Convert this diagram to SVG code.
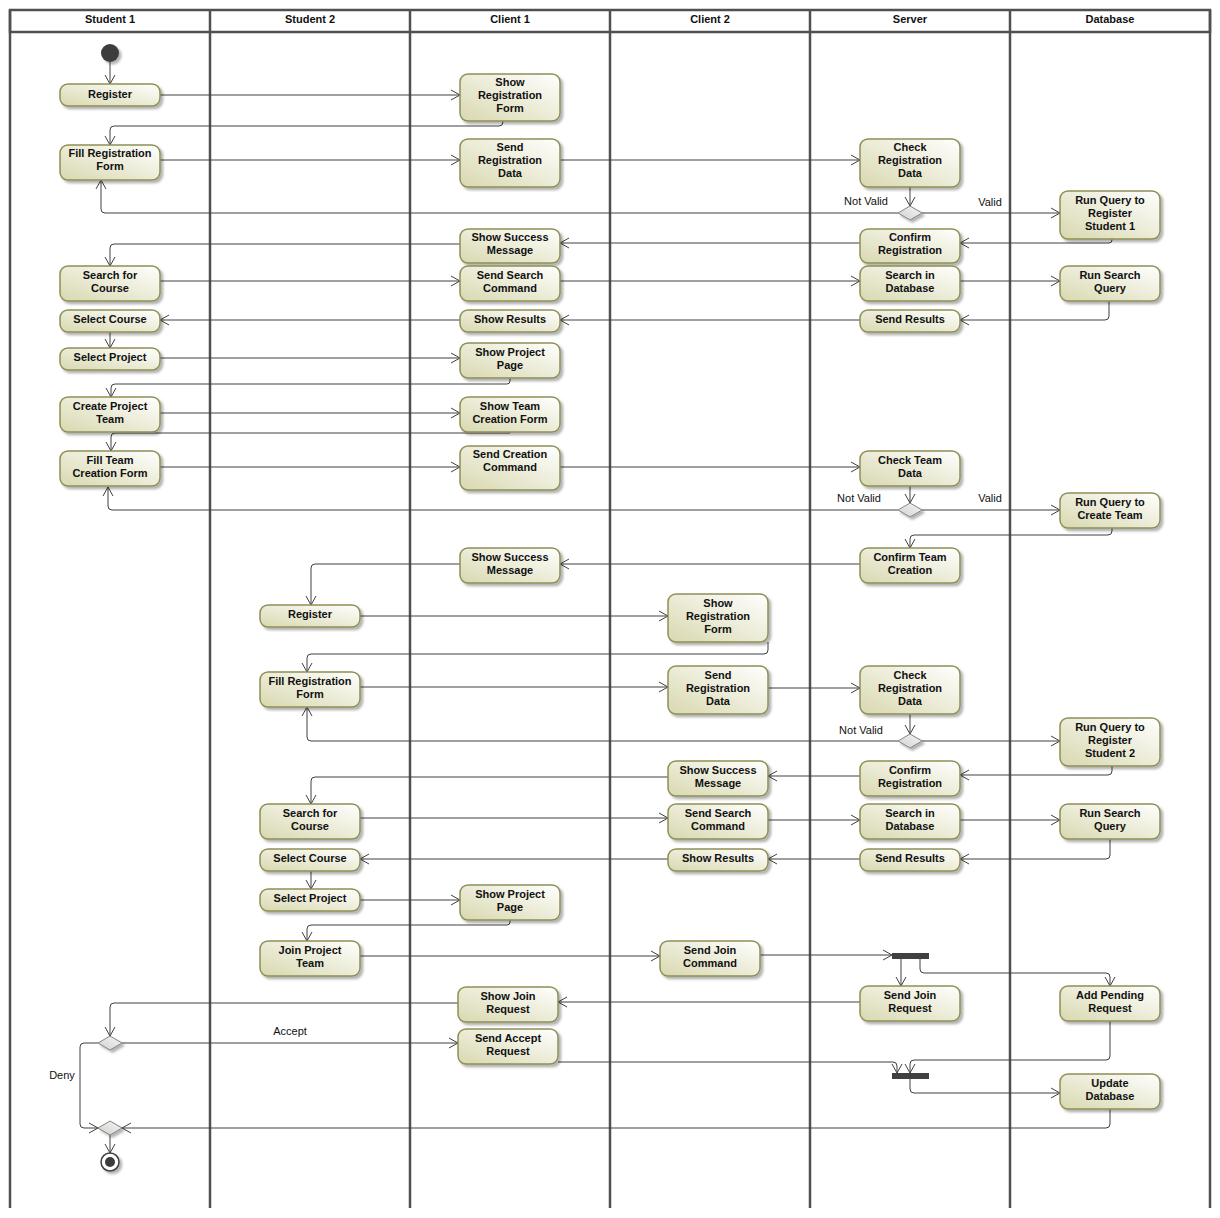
<svg xmlns="http://www.w3.org/2000/svg" width="1220" height="1218" viewBox="0 0 1220 1218">
<style>
.n rect{fill:url(#g);stroke:#8f8f55;stroke-width:1.5;filter:url(#sh)}
.t{font-family:"Liberation Sans",Arial,sans-serif;font-size:11px;font-weight:bold;text-anchor:middle;fill:#111}
.l{font-family:"Liberation Sans",Arial,sans-serif;font-size:11px;text-anchor:middle;fill:#111}
.h{font-family:"Liberation Sans",Arial,sans-serif;font-size:11px;font-weight:bold;text-anchor:middle;fill:#111}
.c path{fill:none;stroke:#404040;stroke-width:1;marker-end:url(#a)}
.d{fill:url(#dg);stroke:#85857a;stroke-width:1;filter:url(#sh)}
.bar{fill:#404040}
.lane{stroke:#505050;stroke-width:2.5;fill:none}
</style>
<defs>
<linearGradient id="g" x1="0" y1="1" x2="1" y2="0">
<stop offset="0" stop-color="#d8d8b0"/>
<stop offset="1" stop-color="#ffffff"/>
</linearGradient>
<linearGradient id="dg" x1="0" y1="1" x2="1" y2="0">
<stop offset="0" stop-color="#d0d0d0"/>
<stop offset="1" stop-color="#f6f6f6"/>
</linearGradient>
<filter id="sh" x="-20%" y="-20%" width="150%" height="160%">
<feDropShadow dx="2.5" dy="2.5" stdDeviation="1" flood-color="#000" flood-opacity="0.3"/>
</filter>
<marker id="a" markerWidth="10" markerHeight="12" refX="9" refY="6" orient="auto" markerUnits="userSpaceOnUse">
<path d="M0,1 L9,6 L0,11" fill="none" stroke="#404040" stroke-width="1"/>
</marker>
</defs>
<rect width="1220" height="1218" fill="#fff"/>
<g id="swimlanes">
<rect x="10" y="10" width="1200" height="22" fill="#fff" class="lane"/>
<path class="lane" d="M10,10V1208M210,10V1208M410,10V1208M610,10V1208M810,10V1208M1010,10V1208M1210,10V1208"/>
<text class="h" x="110" y="23">Student 1</text>
<text class="h" x="310" y="23">Student 2</text>
<text class="h" x="510" y="23">Client 1</text>
<text class="h" x="710" y="23">Client 2</text>
<text class="h" x="910" y="23">Server</text>
<text class="h" x="1110" y="23">Database</text>
</g>
<g id="connectors" class="c">
<path d="M110,62V84"/>
<path d="M160,95H460"/>
<path d="M503,121V122Q503,126 499,126H114Q110,126 110,130V145"/>
<path d="M160,160H460"/>
<path d="M560,160H860"/>
<path d="M910,187V206"/>
<path d="M922,213H1060"/>
<path d="M898,213H105Q101,213 101,209V180"/>
<path d="M1112,239V240Q1112,243 1109,243H960"/>
<path d="M860,243H560"/>
<path d="M460,244H114Q110,244 110,248V266"/>
<path d="M160,281H460"/>
<path d="M560,281H860"/>
<path d="M960,281H1060"/>
<path d="M1109,301V316Q1109,320 1105,320H960"/>
<path d="M860,320H560"/>
<path d="M460,320H160"/>
<path d="M110,332V348"/>
<path d="M160,358H460"/>
<path d="M510,378V381Q510,384 507,384H115Q111,384 111,388V397"/>
<path d="M160,413H460"/>
<path d="M510,432V433H115Q111,433 111,437V451"/>
<path d="M160,467H460"/>
<path d="M560,467H860"/>
<path d="M910,486V503"/>
<path d="M922,510H1060"/>
<path d="M898,510H112Q108,510 108,506V487"/>
<path d="M1112,528V531Q1112,535 1108,535H914Q910,535 910,539V548"/>
<path d="M860,564H560"/>
<path d="M460,564H315Q311,564 311,568V605"/>
<path d="M360,616H668"/>
<path d="M768,642V650Q768,654 764,654H311Q307,654 307,658V672"/>
<path d="M360,687H668"/>
<path d="M768,688H860"/>
<path d="M910,714V734"/>
<path d="M922,741H1060"/>
<path d="M898,741H311Q307,741 307,737V707"/>
<path d="M1112,766V771Q1112,775 1108,775H960"/>
<path d="M860,776H768"/>
<path d="M668,777H315Q311,777 311,781V804"/>
<path d="M360,818H668"/>
<path d="M768,820H860"/>
<path d="M960,820H1060"/>
<path d="M1110,839V855Q1110,859 1106,859H960"/>
<path d="M860,859H768"/>
<path d="M668,859H360"/>
<path d="M311,871V889"/>
<path d="M360,900H460"/>
<path d="M510,920V922Q510,925 507,925H311Q307,925 307,929V941"/>
<path d="M360,956H660"/>
<path d="M760,955H892"/>
<path d="M901,959V986"/>
<path d="M920,959V969Q920,973 924,973H1106Q1110,973 1110,977V986"/>
<path d="M860,1002H558"/>
<path d="M458,1003H114Q110,1003 110,1007V1036"/>
<path d="M122,1043H458"/>
<path d="M98,1043H84Q80,1043 80,1047V1124Q80,1128 84,1128H98"/>
<path d="M558,1062H893Q897,1062 897,1066V1073"/>
<path d="M1110,1021V1056Q1110,1060 1106,1060H914Q910,1060 910,1064V1073"/>
<path d="M910,1079V1089Q910,1093 914,1093H1060"/>
<path d="M1110,1109V1124Q1110,1128 1106,1128H122"/>
<path d="M110,1134V1153"/>
</g>
<g id="labels">
<text class="l" x="866" y="205">Not Valid</text>
<text class="l" x="990" y="206">Valid</text>
<text class="l" x="859" y="502">Not Valid</text>
<text class="l" x="990" y="502">Valid</text>
<text class="l" x="861" y="734">Not Valid</text>
<text class="l" x="290" y="1035">Accept</text>
<text class="l" x="62" y="1079">Deny</text>
</g>
<g id="start"><circle cx="110" cy="53" r="9" fill="#3c3c3c" filter="url(#sh)"/></g>
<g id="s1_register" class="n"><rect x="60" y="84" width="100" height="22" rx="8"/><text class="t"><tspan x="110" y="98">Register</tspan></text></g>
<g id="s1_fill" class="n"><rect x="60" y="145" width="100" height="35" rx="8"/><text class="t"><tspan x="110" y="157">Fill Registration</tspan><tspan x="110" y="170">Form</tspan></text></g>
<g id="s1_search" class="n"><rect x="60" y="266" width="100" height="35" rx="8"/><text class="t"><tspan x="110" y="279">Search for</tspan><tspan x="110" y="292">Course</tspan></text></g>
<g id="s1_selcourse" class="n"><rect x="60" y="310" width="100" height="22" rx="8"/><text class="t"><tspan x="110" y="323">Select Course</tspan></text></g>
<g id="s1_selproj" class="n"><rect x="60" y="348" width="100" height="22" rx="8"/><text class="t"><tspan x="110" y="361">Select Project</tspan></text></g>
<g id="s1_create" class="n"><rect x="60" y="397" width="100" height="35" rx="8"/><text class="t"><tspan x="110" y="410">Create Project</tspan><tspan x="110" y="423">Team</tspan></text></g>
<g id="s1_fillteam" class="n"><rect x="60" y="451" width="100" height="35" rx="8"/><text class="t"><tspan x="110" y="464">Fill Team</tspan><tspan x="110" y="477">Creation Form</tspan></text></g>
<g id="s1_decision"><polygon class="d" points="98,1043 110,1036 122,1043 110,1050"/></g>
<g id="s1_merge"><polygon class="d" points="98,1128 110,1121 122,1128 110,1135"/></g>
<g id="final"><circle cx="110" cy="1162" r="9" fill="#fff" stroke="#404040" stroke-width="1.5" filter="url(#sh)"/><circle cx="110" cy="1162" r="5" fill="#3c3c3c"/></g>
<g id="s2_register" class="n"><rect x="260" y="605" width="100" height="22" rx="8"/><text class="t"><tspan x="310" y="618">Register</tspan></text></g>
<g id="s2_fill" class="n"><rect x="260" y="672" width="100" height="35" rx="8"/><text class="t"><tspan x="310" y="685">Fill Registration</tspan><tspan x="310" y="698">Form</tspan></text></g>
<g id="s2_search" class="n"><rect x="260" y="804" width="100" height="35" rx="8"/><text class="t"><tspan x="310" y="817">Search for</tspan><tspan x="310" y="830">Course</tspan></text></g>
<g id="s2_selcourse" class="n"><rect x="260" y="849" width="100" height="22" rx="8"/><text class="t"><tspan x="310" y="862">Select Course</tspan></text></g>
<g id="s2_selproj" class="n"><rect x="260" y="889" width="100" height="22" rx="8"/><text class="t"><tspan x="310" y="902">Select Project</tspan></text></g>
<g id="s2_join" class="n"><rect x="260" y="941" width="100" height="35" rx="8"/><text class="t"><tspan x="310" y="954">Join Project</tspan><tspan x="310" y="967">Team</tspan></text></g>
<g id="c1_showreg" class="n"><rect x="460" y="74" width="100" height="47" rx="8"/><text class="t"><tspan x="510" y="86">Show</tspan><tspan x="510" y="99">Registration</tspan><tspan x="510" y="112">Form</tspan></text></g>
<g id="c1_sendreg" class="n"><rect x="460" y="139" width="100" height="48" rx="8"/><text class="t"><tspan x="510" y="151">Send</tspan><tspan x="510" y="164">Registration</tspan><tspan x="510" y="177">Data</tspan></text></g>
<g id="c1_success1" class="n"><rect x="460" y="229" width="100" height="34" rx="8"/><text class="t"><tspan x="510" y="241">Show Success</tspan><tspan x="510" y="254">Message</tspan></text></g>
<g id="c1_sendsearch" class="n"><rect x="460" y="266" width="100" height="35" rx="8"/><text class="t"><tspan x="510" y="279">Send Search</tspan><tspan x="510" y="292">Command</tspan></text></g>
<g id="c1_results" class="n"><rect x="460" y="310" width="100" height="22" rx="8"/><text class="t"><tspan x="510" y="323">Show Results</tspan></text></g>
<g id="c1_proj" class="n"><rect x="460" y="343" width="100" height="35" rx="8"/><text class="t"><tspan x="510" y="356">Show Project</tspan><tspan x="510" y="369">Page</tspan></text></g>
<g id="c1_teamform" class="n"><rect x="460" y="397" width="100" height="35" rx="8"/><text class="t"><tspan x="510" y="410">Show Team</tspan><tspan x="510" y="423">Creation Form</tspan></text></g>
<g id="c1_sendcreate" class="n"><rect x="460" y="446" width="100" height="44" rx="8"/><text class="t"><tspan x="510" y="458">Send Creation</tspan><tspan x="510" y="471">Command</tspan></text></g>
<g id="c1_success2" class="n"><rect x="460" y="548" width="100" height="35" rx="8"/><text class="t"><tspan x="510" y="561">Show Success</tspan><tspan x="510" y="574">Message</tspan></text></g>
<g id="c1_proj2" class="n"><rect x="460" y="885" width="100" height="35" rx="8"/><text class="t"><tspan x="510" y="898">Show Project</tspan><tspan x="510" y="911">Page</tspan></text></g>
<g id="c1_showjoin" class="n"><rect x="458" y="987" width="100" height="35" rx="8"/><text class="t"><tspan x="508" y="1000">Show Join</tspan><tspan x="508" y="1013">Request</tspan></text></g>
<g id="c1_accept" class="n"><rect x="458" y="1029" width="100" height="35" rx="8"/><text class="t"><tspan x="508" y="1042">Send Accept</tspan><tspan x="508" y="1055">Request</tspan></text></g>
<g id="c2_showreg" class="n"><rect x="668" y="594" width="100" height="48" rx="8"/><text class="t"><tspan x="718" y="607">Show</tspan><tspan x="718" y="620">Registration</tspan><tspan x="718" y="633">Form</tspan></text></g>
<g id="c2_sendreg" class="n"><rect x="668" y="666" width="100" height="48" rx="8"/><text class="t"><tspan x="718" y="679">Send</tspan><tspan x="718" y="692">Registration</tspan><tspan x="718" y="705">Data</tspan></text></g>
<g id="c2_success" class="n"><rect x="668" y="761" width="100" height="35" rx="8"/><text class="t"><tspan x="718" y="774">Show Success</tspan><tspan x="718" y="787">Message</tspan></text></g>
<g id="c2_sendsearch" class="n"><rect x="668" y="804" width="100" height="35" rx="8"/><text class="t"><tspan x="718" y="817">Send Search</tspan><tspan x="718" y="830">Command</tspan></text></g>
<g id="c2_results" class="n"><rect x="668" y="849" width="100" height="22" rx="8"/><text class="t"><tspan x="718" y="862">Show Results</tspan></text></g>
<g id="c2_sendjoin" class="n"><rect x="660" y="941" width="100" height="35" rx="8"/><text class="t"><tspan x="710" y="954">Send Join</tspan><tspan x="710" y="967">Command</tspan></text></g>
<g id="sv_check1" class="n"><rect x="860" y="139" width="100" height="48" rx="8"/><text class="t"><tspan x="910" y="151">Check</tspan><tspan x="910" y="164">Registration</tspan><tspan x="910" y="177">Data</tspan></text></g>
<g id="sv_dec1"><polygon class="d" points="898,213 910,206 922,213 910,220"/></g>
<g id="sv_confirm1" class="n"><rect x="860" y="229" width="100" height="34" rx="8"/><text class="t"><tspan x="910" y="241">Confirm</tspan><tspan x="910" y="254">Registration</tspan></text></g>
<g id="sv_search1" class="n"><rect x="860" y="266" width="100" height="35" rx="8"/><text class="t"><tspan x="910" y="279">Search in</tspan><tspan x="910" y="292">Database</tspan></text></g>
<g id="sv_results1" class="n"><rect x="860" y="310" width="100" height="22" rx="8"/><text class="t"><tspan x="910" y="323">Send Results</tspan></text></g>
<g id="sv_checkteam" class="n"><rect x="860" y="451" width="100" height="35" rx="8"/><text class="t"><tspan x="910" y="464">Check Team</tspan><tspan x="910" y="477">Data</tspan></text></g>
<g id="sv_dec2"><polygon class="d" points="898,510 910,503 922,510 910,517"/></g>
<g id="sv_confirmteam" class="n"><rect x="860" y="548" width="100" height="35" rx="8"/><text class="t"><tspan x="910" y="561">Confirm Team</tspan><tspan x="910" y="574">Creation</tspan></text></g>
<g id="sv_check2" class="n"><rect x="860" y="666" width="100" height="48" rx="8"/><text class="t"><tspan x="910" y="679">Check</tspan><tspan x="910" y="692">Registration</tspan><tspan x="910" y="705">Data</tspan></text></g>
<g id="sv_dec3"><polygon class="d" points="898,741 910,734 922,741 910,748"/></g>
<g id="sv_confirm2" class="n"><rect x="860" y="761" width="100" height="35" rx="8"/><text class="t"><tspan x="910" y="774">Confirm</tspan><tspan x="910" y="787">Registration</tspan></text></g>
<g id="sv_search2" class="n"><rect x="860" y="804" width="100" height="35" rx="8"/><text class="t"><tspan x="910" y="817">Search in</tspan><tspan x="910" y="830">Database</tspan></text></g>
<g id="sv_results2" class="n"><rect x="860" y="849" width="100" height="22" rx="8"/><text class="t"><tspan x="910" y="862">Send Results</tspan></text></g>
<g id="sv_fork"><rect class="bar" x="892" y="953" width="37" height="6"/></g>
<g id="sv_sendjoin" class="n"><rect x="860" y="986" width="100" height="35" rx="8"/><text class="t"><tspan x="910" y="999">Send Join</tspan><tspan x="910" y="1012">Request</tspan></text></g>
<g id="sv_joinbar"><rect class="bar" x="892" y="1073" width="37" height="6"/></g>
<g id="db_q1" class="n"><rect x="1060" y="191" width="100" height="48" rx="8"/><text class="t"><tspan x="1110" y="204">Run Query to</tspan><tspan x="1110" y="217">Register</tspan><tspan x="1110" y="230">Student 1</tspan></text></g>
<g id="db_search1" class="n"><rect x="1060" y="266" width="100" height="35" rx="8"/><text class="t"><tspan x="1110" y="279">Run Search</tspan><tspan x="1110" y="292">Query</tspan></text></g>
<g id="db_qteam" class="n"><rect x="1060" y="493" width="100" height="35" rx="8"/><text class="t"><tspan x="1110" y="506">Run Query to</tspan><tspan x="1110" y="519">Create Team</tspan></text></g>
<g id="db_q2" class="n"><rect x="1060" y="718" width="100" height="48" rx="8"/><text class="t"><tspan x="1110" y="731">Run Query to</tspan><tspan x="1110" y="744">Register</tspan><tspan x="1110" y="757">Student 2</tspan></text></g>
<g id="db_search2" class="n"><rect x="1060" y="804" width="100" height="35" rx="8"/><text class="t"><tspan x="1110" y="817">Run Search</tspan><tspan x="1110" y="830">Query</tspan></text></g>
<g id="db_pending" class="n"><rect x="1060" y="986" width="100" height="35" rx="8"/><text class="t"><tspan x="1110" y="999">Add Pending</tspan><tspan x="1110" y="1012">Request</tspan></text></g>
<g id="db_update" class="n"><rect x="1060" y="1074" width="100" height="35" rx="8"/><text class="t"><tspan x="1110" y="1087">Update</tspan><tspan x="1110" y="1100">Database</tspan></text></g>
</svg>
